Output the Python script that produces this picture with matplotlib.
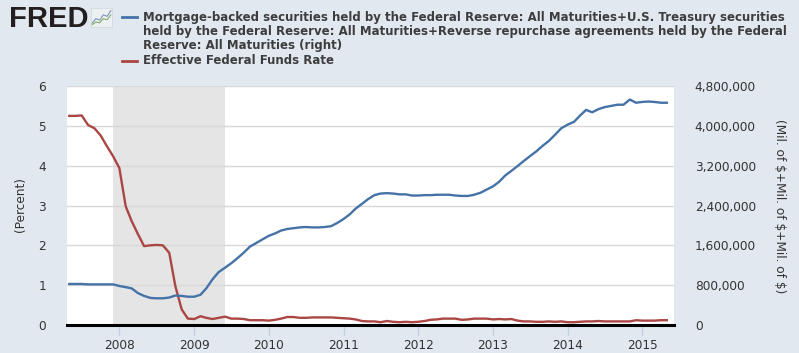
import matplotlib
matplotlib.use("Agg")
import matplotlib.pyplot as plt
import matplotlib.dates as mdates
from matplotlib.lines import Line2D
import pandas as pd
import numpy as np

# ---------------- data ----------------
dates = pd.date_range("2007-05-01", "2015-05-01", freq="MS")

fed_funds = [
    5.25, 5.25, 5.26, 5.02, 4.94, 4.76, 4.49, 4.24,                      # 2007 May-Dec
    3.94, 2.98, 2.61, 2.28, 1.98, 2.00, 2.01, 2.00, 1.81, 0.97, 0.39, 0.16,  # 2008
    0.15, 0.22, 0.18, 0.15, 0.18, 0.21, 0.16, 0.16, 0.15, 0.12, 0.12, 0.12,  # 2009
    0.11, 0.13, 0.16, 0.20, 0.20, 0.18, 0.18, 0.19, 0.19, 0.19, 0.19, 0.18,  # 2010
    0.17, 0.16, 0.14, 0.10, 0.09, 0.09, 0.07, 0.10, 0.08, 0.07, 0.08, 0.07,  # 2011
    0.08, 0.10, 0.13, 0.14, 0.16, 0.16, 0.16, 0.13, 0.14, 0.16, 0.16, 0.16,  # 2012
    0.14, 0.15, 0.14, 0.15, 0.11, 0.09, 0.09, 0.08, 0.08, 0.09, 0.08, 0.09,  # 2013
    0.07, 0.07, 0.08, 0.09, 0.09, 0.10, 0.09, 0.09, 0.09, 0.09, 0.09, 0.12,  # 2014
    0.11, 0.11, 0.11, 0.12, 0.12,                                        # 2015
]

fed_holdings = [  # millions of dollars
    824000, 824000, 824000, 816000, 816000, 816000, 816000, 816000,
    784000, 760000, 736000, 640000, 584000, 544000, 536000, 536000, 552000, 592000, 584000, 568000,
    568000, 608000, 736000, 920000, 1064000, 1152000, 1240000, 1344000, 1456000, 1576000, 1648000, 1720000,
    1792000, 1840000, 1896000, 1928000, 1944000, 1960000, 1968000, 1960000, 1960000, 1968000, 1984000, 2048000,
    2128000, 2224000, 2336000, 2432000, 2528000, 2608000, 2640000, 2648000, 2640000, 2624000, 2624000, 2600000,
    2600000, 2608000, 2608000, 2616000, 2616000, 2616000, 2600000, 2592000, 2592000, 2616000, 2656000, 2720000,
    2784000, 2880000, 3000000, 3096000, 3192000, 3296000, 3392000, 3488000, 3600000, 3696000, 3824000, 3952000,
    4024000, 4080000, 4200000, 4320000, 4272000, 4336000, 4376000, 4400000, 4424000, 4424000, 4528000, 4464000,
    4480000, 4488000, 4480000, 4464000, 4464000,
]

recession_start = pd.Timestamp("2007-12-01")
recession_end = pd.Timestamp("2009-06-01")

left_ticks = [0, 1, 2, 3, 4, 5, 6]
right_ticks = [0, 800000, 1600000, 2400000, 3200000, 4000000, 4800000]
right_tick_labels = ["0", "800,000", "1,600,000", "2,400,000", "3,200,000", "4,000,000", "4,800,000"]
year_ticks = [2008, 2009, 2010, 2011, 2012, 2013, 2014, 2015]

legend_lines_blue = [
    "Mortgage-backed securities held by the Federal Reserve: All Maturities+U.S. Treasury securities",
    "held by the Federal Reserve: All Maturities+Reverse repurchase agreements held by the Federal",
    "Reserve: All Maturities (right)",
]
legend_red = "Effective Federal Funds Rate"

# ---------------- style ----------------
BG = "#e1e8f0"
BLUE = "#4572a7"
RED = "#aa4643"
TXT = "#333333"
LEG = "#3d3d3d"
W, H = 799, 353

fig = plt.figure(figsize=(W / 100, H / 100), dpi=100, facecolor=BG)
ax = fig.add_axes([67 / W, 1 - 325 / H, (674 - 67) / W, (325 - 86) / H])
ax.set_facecolor("white")
ax2 = ax.twinx()

ax.axvspan(recession_start, recession_end, color="#e5e5e5", zorder=0, lw=0)
for v in left_ticks[1:]:
    ax.axhline(v, color="#d8d8d8", lw=1.0, zorder=1)

ax.plot(dates, fed_funds, color=RED, lw=1.7, zorder=3, solid_joinstyle="round")
ax2.plot(dates, fed_holdings, color=BLUE, lw=1.7, zorder=3, solid_joinstyle="round")

ax.set_ylim(0, 6)
ax2.set_ylim(0, 4800000)
ax.set_xlim(pd.Timestamp("2007-04-20"), pd.Timestamp("2015-06-05"))

ax.set_yticks(left_ticks)
ax.set_yticklabels([str(v) for v in left_ticks])
ax2.set_yticks(right_ticks)
ax2.set_yticklabels(right_tick_labels)

ax.set_xticks([pd.Timestamp(f"{y}-01-01") for y in year_ticks])
ax.set_xticklabels([str(y) for y in year_ticks])

for a in (ax, ax2):
    for s in a.spines.values():
        s.set_visible(False)
ax.spines["bottom"].set_visible(True)
ax.spines["bottom"].set_color("black")
ax.spines["bottom"].set_linewidth(2.2)
ax.spines["bottom"].set_zorder(5)

ax.tick_params(axis="x", direction="out", length=7, width=1, color="#c0d0e0",
               labelsize=8.7, labelcolor=TXT, pad=3)
ax.tick_params(axis="y", length=0, labelsize=8.7, labelcolor=TXT, pad=15)
ax2.tick_params(axis="y", length=0, labelsize=8.7, labelcolor=TXT, pad=15)

fig.text(20 / W, 1 - 205 / H, "(Percent)", rotation=90, ha="center", va="center",
         fontsize=8.7, color=TXT)
fig.text(779 / W, 1 - 206 / H, "(Mil. of \\$+Mil. of \\$+Mil. of \\$)", rotation=270,
         ha="center", va="center", fontsize=8.7, color=TXT)

# ---------------- legend ----------------
ys = [17, 32, 46]
for y, t in zip(ys, legend_lines_blue):
    fig.text(143 / W, 1 - y / H, t, ha="left", va="center", fontsize=8.5,
             fontweight="bold", color=LEG)
fig.text(143 / W, 1 - 61 / H, legend_red, ha="left", va="center", fontsize=8.5,
         fontweight="bold", color=LEG)
fig.add_artist(Line2D([122 / W, 137 / W], [1 - 17 / H, 1 - 17 / H], color=BLUE, lw=2))
fig.add_artist(Line2D([122 / W, 137 / W], [1 - 61 / H, 1 - 61 / H], color=RED, lw=2))

# ---------------- FRED logo ----------------
fig.text(9 / W, 1 - 27 / H, "FRED", ha="left", va="baseline", fontsize=21,
         fontweight="bold", family="Liberation Sans", color="#231f20")
logo = fig.add_axes([91 / W, 1 - 27 / H, 21 / W, 19 / H])
logo.set_facecolor("#edf0f2")
logo.set_xticks([]); logo.set_yticks([])
for s in logo.spines.values():
    s.set_color("#d0d6dc"); s.set_linewidth(0.5)
lx = np.arange(6)
logo.plot(lx, [1, 2.2, 1.8, 3.2, 2.8, 4.3], color="#7a96b8", lw=0.8)
logo.plot(lx, [0.6, 1.3, 1.1, 2.2, 1.9, 3.2], color="#7fb069", lw=0.8)
logo.set_xlim(-0.3, 5.3); logo.set_ylim(0, 5)

fig.savefig("out.png", dpi=100, facecolor=BG)
